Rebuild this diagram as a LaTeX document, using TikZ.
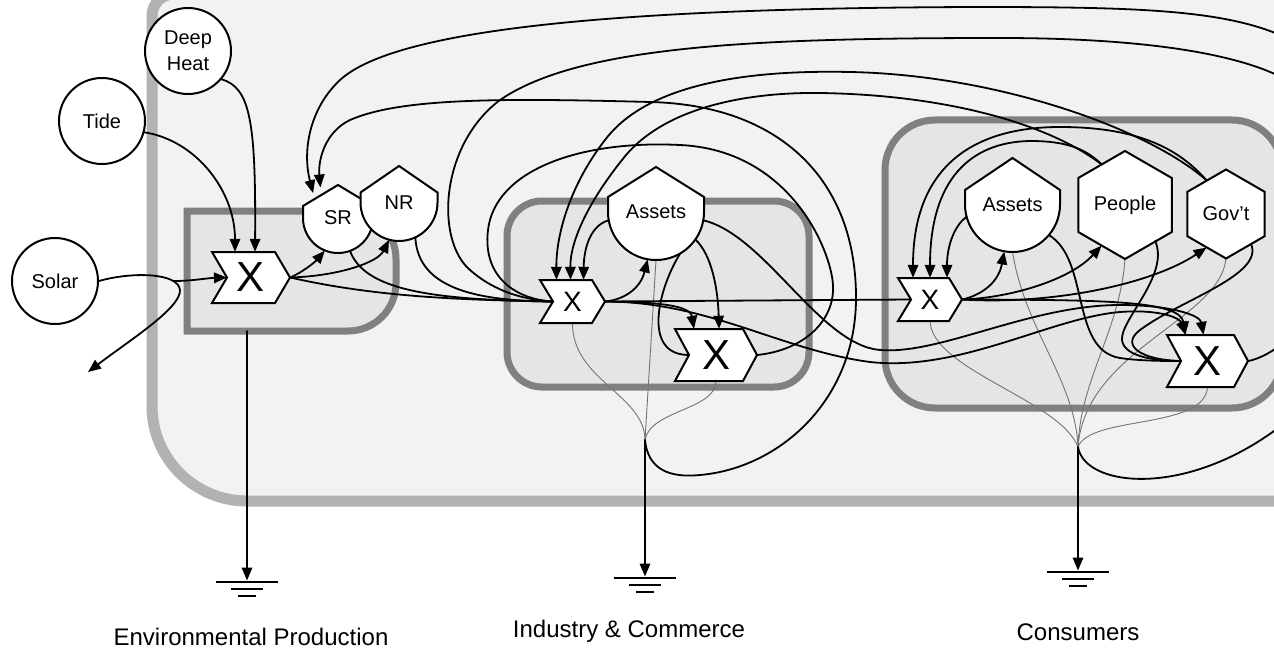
\documentclass[tikz,border=0pt]{standalone}
\usepackage{fontspec}
\setmainfont{Liberation Sans}
\usetikzlibrary{arrows.meta,calc}

% chevron-shaped interaction symbol: name, cx, cy, width, height, notch depth, font size
\newcommand\chevnode[7]{%
  \draw[shapeline] ({#2-#4/2},{#3-#5/2}) -- ({#2+#4/2-#6},{#3-#5/2}) -- ({#2+#4/2},#3)
    -- ({#2+#4/2-#6},{#3+#5/2}) -- ({#2-#4/2},{#3+#5/2}) -- ({#2-#4/2+#6},#3) -- cycle;
  \node[chevtext=#7, minimum width=#4pt, minimum height=#5pt] (#1) at (#2,#3) {X};
  \coordinate (#1-in) at ({#2-#4/2+#6},#3);
}
% storage tank (round bottom, pointed roof): name, cx, cy, radius, shoulder, apex, text
\newcommand\shieldnode[7]{%
  \draw[shapeline] ({#2-#4},#3) arc[start angle=180, end angle=0, radius=#4]
    -- ({#2+#4},{#3-#5}) -- (#2,{#3-#6}) -- ({#2-#4},{#3-#5}) -- cycle;
  \node[nodetext, circle, minimum size={2*#4pt}] (#1) at (#2,#3) {#7};
}
% consumer hexagon: name, cx, cy, outer radius, text
\newcommand\hexnode[5]{%
  \draw[shapeline] (#2,{#3-#4}) -- ({#2-0.866*#4},{#3-0.5*#4}) -- ({#2-0.866*#4},{#3+0.5*#4})
    -- (#2,{#3+#4}) -- ({#2+0.866*#4},{#3+0.5*#4}) -- ({#2+0.866*#4},{#3-0.5*#4}) -- cycle;
  \node[nodetext, circle, minimum size={1.732*#4pt}] (#1) at (#2,#3) {#5};
}
% heat sink symbol: name (arrow target), x, y of the top bar
\newcommand\groundsym[3]{%
  \coordinate (#1) at (#2,{#3-1.5});
  \draw[groundbar] ({#2-31},#3) -- ({#2+31},#3) ({#2-16},{#3+7}) -- ({#2+16},{#3+7})
    ({#2-9},{#3+14}) -- ({#2+9},{#3+14});
}

\begin{document}
\begin{tikzpicture}[x=1pt,y=-1pt,
  flow/.style={line width=1.8pt, line cap=round},
  arr/.style={flow, -{Triangle[length=13pt,width=10.5pt]}},
  sinkline/.style={line width=0.9pt, draw=black!55},
  shapeline/.style={draw=black, line width=2pt, fill=white, line join=miter},
  nodetext/.style={font=\fontsize{20}{26}\selectfont, inner sep=0pt, align=center},
  chevtext/.style={inner sep=0pt, font=\fontsize{#1}{#1}\selectfont},
  sectorbox/.style={draw=black!50, line width=7pt, fill=black!10},
  source/.style={nodetext, circle, draw, line width=2pt, fill=white, minimum size=86pt},
  groundbar/.style={line width=2.5pt},
  caption/.style={font=\fontsize{24}{28}\selectfont, anchor=base},
]
\useasboundingbox (0,0) rectangle (1274,650);
\clip (0,0) rectangle (1274,650);
\fill[white] (0,0) rectangle (1274,650);

% economy boundary
\draw[line width=11pt, draw=black!30, fill=black!5]
  (1400,-6) -- (174,-6) arc[start angle=270, end angle=180, radius=22]
  -- (152,406) arc[start angle=180, end angle=90, radius=95] -- (1400,501) -- cycle;

% sectors
\draw[sectorbox] (187,211) -- (348,211) arc[start angle=270, end angle=360, radius=48]
  -- (396,283) arc[start angle=0, end angle=90, radius=48] -- (187,331) -- cycle;
\draw[sectorbox, rounded corners=35] (507,201) rectangle (809,387);
\draw[sectorbox, rounded corners=50] (885,120) rectangle (1282,408);

% free ends and junctions
\coordinate (solarfork) at (174,281);
\coordinate (solarloss) at (88,372);
\coordinate (envsink) at (247,331);
\coordinate (ijunc) at (645,440);
\coordinate (cjunc) at (1078,447);

% heat sinks
\groundsym{gndA}{247}{582}
\groundsym{gndB}{645}{578}
\groundsym{gndC}{1078}{572}

% heat sink lines (drawn beneath the symbols)
\draw[sinkline] (572.5,323) .. controls (572,380) and (645,395) .. (ijunc);
\draw[sinkline] (656,260) -- (ijunc);
\draw[sinkline] (716,381) .. controls (716,410) and (650,410) .. (ijunc);
\draw[sinkline] (930,321) .. controls (932,370) and (1060,400) .. (cjunc);
\draw[sinkline] (1012.5,252) .. controls (1025,330) and (1075,380) .. (cjunc);
\draw[sinkline] (1125,259) .. controls (1120,330) and (1080,380) .. (cjunc);
\draw[sinkline] (1226,258.5) .. controls (1220,320) and (1085,350) .. (cjunc);
\draw[sinkline] (1207.5,387) .. controls (1205,430) and (1090,415) .. (cjunc);

% sources
\node[source] (deepheat) at (188,51) {Deep\\Heat};
\node[source] (tide) at (102,121) {Tide};
\node[source] (solar) at (55,281) {Solar};

% environmental production
\chevnode{envx}{251}{277.5}{78}{51}{15}{42}
\shieldnode{sr}{338}{218}{35}{12}{33}{SR}
\shieldnode{nr}{399}{202.5}{38.5}{10}{36.5}{NR}

% industry and commerce
\chevnode{ix1}{572.5}{301.5}{65}{43}{13}{28}
\chevnode{ix2}{716}{355}{82}{52}{14}{42}
\shieldnode{iassets}{656}{212}{48}{15}{45}{Assets}

% consumers
\chevnode{cx1}{930}{299.5}{64}{43}{13}{28}
\chevnode{cx2}{1207.5}{361}{81}{52}{14}{42}
\shieldnode{cassets}{1012.5}{204.5}{47.5}{14.5}{46.5}{Assets}
\hexnode{people}{1125}{205}{54}{People}
\hexnode{govt}{1226}{214}{44.5}{Gov't}

% environmental inputs
\draw[arr] (tide.-15) .. controls (195,140) and (235,190) .. ([xshift=-16pt]envx.north);
\draw[arr] (deepheat.-40) .. controls (250,88) and (256,120) .. ([xshift=4pt]envx.north);
\draw[arr] (solar.east) .. controls (130,272) and (178,272) .. (180,290)
  .. controls (181,308) and (130,340) .. (solarloss);
\draw[arr] (solarfork) .. controls (192,281) and (208,278) .. (envx-in);
\draw[arr] (envx.east) .. controls (303,272) and (315,262) .. (sr.-112);
\draw[arr] (envx.east) .. controls (340,276) and (378,262) .. (nr.-105);
\draw[flow] (envx.east) .. controls (380,298) and (470,300) .. (ix1-in);
\draw[flow] (sr.-70) .. controls (365,290) and (430,300) .. (ix1-in);
\draw[flow] (nr.-65) .. controls (418,290) and (480,301) .. (ix1-in);
\draw[arr] (envsink) -- (gndA);

% industry flows
\draw[arr] (ix1.east) .. controls (622,300) and (640,290) .. (iassets.-100);
\draw[arr] (iassets.190) .. controls (592,225) and (584,245) .. ([xshift=11pt]ix1.north);
\draw[arr] (ix1.east) .. controls (655,302) and (690,305) .. ([xshift=-22pt]ix2.north);
\draw[arr] (iassets.-35) .. controls (712,255) and (718,290) .. ([xshift=3pt]ix2.north);
\draw[flow] (iassets.-60) .. controls (660,285) and (640,355) .. (ix2-in);
\draw[flow] (ix1.east) -- (cx1-in);
\draw[arr] (iassets.-10) .. controls (765,235) and (820,345) .. (880,350)
  .. controls (940,355) and (1030,305) .. (1120,305)
  .. controls (1170,305) and (1200,315) .. ([xshift=-4pt]cx2.north);
\draw[arr] (ix1.east) .. controls (710,302) and (780,350) .. (870,362)
  .. controls (960,372) and (1050,318) .. (1120,312)
  .. controls (1160,309) and (1180,318) .. ([xshift=-22pt]cx2.north);
\draw[flow] (ix2.east) .. controls (805,350) and (835,320) .. (833,285)
  .. controls (831,250) and (790,150) .. (680,145)
  .. controls (580,140) and (495,170) .. (488,230)
  .. controls (482,280) and (520,300) .. (ix1-in);
\draw[arr] (ijunc) .. controls (648,470) and (670,478) .. (700,475)
  .. controls (780,468) and (855,400) .. (856,300)
  .. controls (857,180) and (780,105) .. (650,102)
  .. controls (500,98) and (400,98) .. (350,120)
  .. controls (325,132) and (318,160) .. (sr.120);
\draw[arr] (ijunc) -- (gndB);

% consumer flows
\draw[arr] (cx1.east) .. controls (978,296) and (998,285) .. (cassets.-100);
\draw[arr] (cassets.195) .. controls (955,225) and (947,245) .. ([xshift=17pt]cx1.north);
\draw[arr] (people.120) .. controls (1085,148) and (1065,141) .. (1030,141)
  .. controls (970,142) and (930,180) .. (cx1.north);
\draw[arr] (govt.120) .. controls (1180,150) and (1140,127) .. (1060,127)
  .. controls (975,127) and (913,165) .. ([xshift=-17pt]cx1.north);
\draw[arr] (govt.120) .. controls (1150,130) and (1000,75) .. (850,72)
  .. controls (760,70) and (650,80) .. (605,140)
  .. controls (570,185) and (556,235) .. ([xshift=-16pt]ix1.north);
\draw[arr] (people.120) .. controls (1050,125) and (950,95) .. (820,93)
  .. controls (740,92) and (660,110) .. (622,160)
  .. controls (590,200) and (570,240) .. ([xshift=-2pt]ix1.north);
\draw[arr] (cx1.east) .. controls (1010,298) and (1070,280) .. (people.-120);
\draw[arr] (cx1.east) .. controls (1050,305) and (1150,285) .. (govt.-120);
\draw[arr] (cx1.east) .. controls (1100,300) and (1180,300) .. ([xshift=-22pt]cx2.north);
\draw[flow] (cassets.-40) .. controls (1090,260) and (1070,350) .. (1120,358)
  .. controls (1140,361) and (1165,361) .. (cx2-in);
\draw[flow] (people.-50) .. controls (1170,275) and (1120,320) .. (1122,340)
  .. controls (1124,358) and (1160,361) .. (cx2-in);
\draw[flow] (govt.-50) .. controls (1265,275) and (1180,300) .. (1140,330)
  .. controls (1120,345) and (1140,360) .. (cx2-in);

% feedback loops returning over the top
\draw[flow] (cx2.east) .. controls (1265,358) and (1295,340) .. (1310,310)
  .. controls (1340,250) and (1340,110) .. (1295,85)
  .. controls (1250,55) and (1150,38) .. (1000,38)
  .. controls (760,38) and (580,45) .. (500,100)
  .. controls (440,145) and (435,240) .. (470,270)
  .. controls (495,292) and (525,300) .. (ix1-in);
\draw[arr] (cjunc) .. controls (1085,490) and (1200,500) .. (1300,410)
  .. controls (1360,330) and (1365,90) .. (1300,45)
  .. controls (1240,10) and (1150,7) .. (976,7)
  .. controls (650,8) and (400,25) .. (340,80)
  .. controls (310,108) and (302,150) .. (sr.135);
\draw[arr] (cjunc) -- (gndC);

% sector captions
\node[caption] (labA) at (251,645) {Environmental Production};
\node[caption] (labB) at (629,637) {Industry \& Commerce};
\node[caption] (labC) at (1078,640) {Consumers};
\end{tikzpicture}
\end{document}
